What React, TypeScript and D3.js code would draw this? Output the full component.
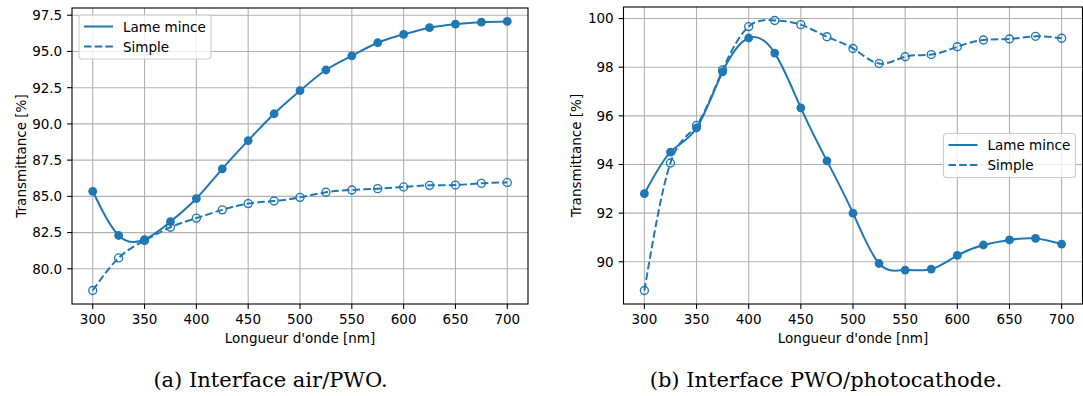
import React from "react";
import * as d3 from "d3";

// wavelengths in nm
const wavelengths = [300, 325, 350, 375, 400, 425, 450, 475, 500, 525, 550, 575, 600, 625, 650, 675, 700];

// (a) interface air/PWO
const airLame = [85.35, 82.3, 82.02, 83.25, 84.85, 86.9, 88.85, 90.7, 92.29, 93.72, 94.7, 95.6, 96.18, 96.64, 96.88, 97.02, 97.07];
const airSimple = [78.5, 80.75, 81.95, 82.87, 83.5, 84.07, 84.5, 84.68, 84.93, 85.28, 85.44, 85.53, 85.65, 85.76, 85.78, 85.9, 85.96];

// (b) interface PWO/photocathode
const photoLame = [92.8, 94.51, 95.5, 97.81, 99.2, 98.58, 96.33, 94.15, 92.0, 89.93, 89.66, 89.7, 90.26, 90.69, 90.9, 90.96, 90.73];
const photoSimple = [88.82, 94.06, 95.61, 97.89, 99.67, 99.92, 99.75, 99.25, 98.77, 98.15, 98.43, 98.52, 98.84, 99.12, 99.16, 99.27, 99.19];

const xTicks = [300, 350, 400, 450, 500, 550, 600, 650, 700];
const airYTicks = [80, 82.5, 85, 87.5, 90, 92.5, 95, 97.5];
const photoYTicks = [90, 92, 94, 96, 98, 100];

const seriesNames = ["Lame mince", "Simple"];
const captions = ["(a) Interface air/PWO.", "(b) Interface PWO/photocathode."];

const blue = "#1f77b4";
const font = "DejaVu Sans, sans-serif";
const fs = 13.5;

type PanelProps = {
  left: number;
  right: number;
  top: number;
  bottom: number;
  lame: number[];
  simple: number[];
  yTicks: number[];
  yFmt: (v: number) => string;
  legend: "upper left" | "center right";
  ylabelX: number;
  caption: string;
  captionX: number;
};

function Panel(p: PanelProps) {
  const x = d3.scaleLinear().domain([280, 720]).range([p.left, p.right]);
  const all = p.lame.concat(p.simple);
  const lo = d3.min(all)!;
  const hi = d3.max(all)!;
  const pad = (hi - lo) * 0.05;
  const y = d3.scaleLinear().domain([lo - pad, hi + pad]).range([p.bottom, p.top]);

  const line = d3
    .line<number>()
    .x((_, i) => x(wavelengths[i]))
    .y((d) => y(d))
    .curve(d3.curveNatural);

  const lw = 132;
  const lh = 44;
  const lx = p.legend === "upper left" ? p.left + 7 : p.right - 7 - lw;
  const ly = p.legend === "upper left" ? p.top + 7 : (p.top + p.bottom) / 2 - lh / 2;
  const clipId = "clip" + p.left;

  return (
    <g>
      <defs>
        <clipPath id={clipId}>
          <rect x={p.left} y={p.top} width={p.right - p.left} height={p.bottom - p.top} />
        </clipPath>
      </defs>
      {/* grid */}
      {xTicks.map((t) => (
        <line key={"gx" + t} x1={x(t)} x2={x(t)} y1={p.top} y2={p.bottom} stroke="#b0b0b0" strokeWidth={1.1} />
      ))}
      {p.yTicks.map((t) => (
        <line key={"gy" + t} x1={p.left} x2={p.right} y1={y(t)} y2={y(t)} stroke="#b0b0b0" strokeWidth={1.1} />
      ))}

      <g clipPath={`url(#${clipId})`}>
        <path d={line(p.lame)!} fill="none" stroke={blue} strokeWidth={2} />
        <path d={line(p.simple)!} fill="none" stroke={blue} strokeWidth={2} strokeDasharray="7.5,3.2" />
        {p.lame.map((v, i) => (
          <circle key={"l" + i} cx={x(wavelengths[i])} cy={y(v)} r={4.4} fill={blue} />
        ))}
        {p.simple.map((v, i) => (
          <circle key={"s" + i} cx={x(wavelengths[i])} cy={y(v)} r={4} fill="none" stroke={blue} strokeWidth={1.35} />
        ))}
      </g>

      {/* frame */}
      <rect x={p.left} y={p.top} width={p.right - p.left} height={p.bottom - p.top} fill="none" stroke="#000" strokeWidth={1.1} />

      {/* x ticks */}
      {xTicks.map((t) => (
        <g key={"tx" + t}>
          <line x1={x(t)} x2={x(t)} y1={p.bottom} y2={p.bottom + 4.9} stroke="#000" strokeWidth={1.1} />
          <text x={x(t)} y={p.bottom + 19.5} textAnchor="middle" fontFamily={font} fontSize={fs}>
            {t}
          </text>
        </g>
      ))}
      {/* y ticks */}
      {p.yTicks.map((t) => (
        <g key={"ty" + t}>
          <line x1={p.left - 4.9} x2={p.left} y1={y(t)} y2={y(t)} stroke="#000" strokeWidth={1.1} />
          <text x={p.left - 9.8} y={y(t) + 4.9} textAnchor="end" fontFamily={font} fontSize={fs}>
            {p.yFmt(t)}
          </text>
        </g>
      ))}

      <text x={(p.left + p.right) / 2} y={p.bottom + 39} textAnchor="middle" fontFamily={font} fontSize={fs}>
        Longueur d'onde [nm]
      </text>
      <text
        transform={`translate(${p.ylabelX},${(p.top + p.bottom) / 2}) rotate(-90)`}
        textAnchor="middle"
        dy="0.35em"
        fontFamily={font}
        fontSize={fs}
      >
        Transmittance [%]
      </text>

      {/* legend */}
      <rect x={lx} y={ly} width={lw} height={lh} rx={3} fill="#fff" fillOpacity={0.8} stroke="#cccccc" strokeWidth={1.1} />
      {seriesNames.map((name, i) => (
        <g key={name}>
          <line
            x1={lx + 5}
            x2={lx + 34}
            y1={ly + 11.5 + i * 20}
            y2={ly + 11.5 + i * 20}
            stroke={blue}
            strokeWidth={2}
            strokeDasharray={i === 1 ? "7.5,3.2" : undefined}
          />
          <text x={lx + 44} y={ly + 16.5 + i * 20} fontFamily={font} fontSize={fs}>
            {name}
          </text>
        </g>
      ))}

      <text x={p.captionX} y={387} textAnchor="middle" fontFamily="DejaVu Serif, serif" fontSize={21}>
        {p.caption}
      </text>
    </g>
  );
}

export default function App() {
  return (
    <div style={{ position: "absolute", left: 0, top: 0 }}>
      <svg width={1083} height={396} style={{ display: "block", background: "#fff" }}>
        <Panel
          left={72}
          right={528}
          top={8}
          bottom={304}
          lame={airLame}
          simple={airSimple}
          yTicks={airYTicks}
          yFmt={d3.format(".1f")}
          legend="upper left"
          ylabelX={21}
          caption={captions[0]}
          captionX={270.5}
        />
        <Panel
          left={623.5}
          right={1082.5}
          top={7}
          bottom={304}
          lame={photoLame}
          simple={photoSimple}
          yTicks={photoYTicks}
          yFmt={d3.format("d")}
          legend="center right"
          ylabelX={576}
          caption={captions[1]}
          captionX={826}
        />
      </svg>
    </div>
  );
}
